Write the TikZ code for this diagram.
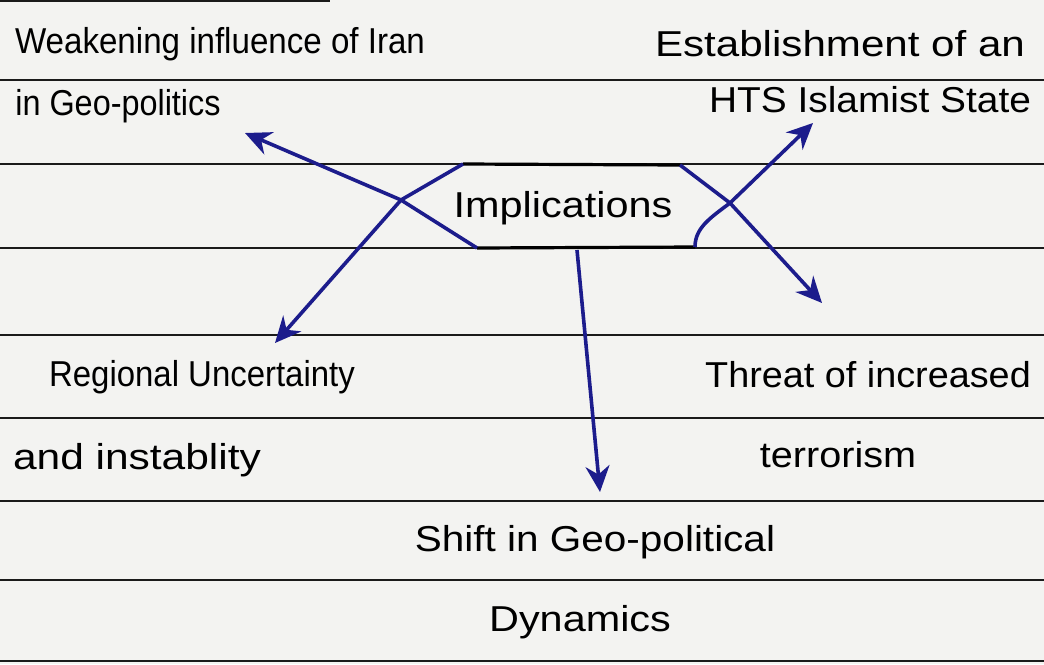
\documentclass[tikz,border=0pt]{standalone}
\usepackage{fontspec}
\setmainfont{Liberation Sans}
\usetikzlibrary{arrows.meta}
\definecolor{paper}{HTML}{F3F3F1}
\definecolor{ink}{HTML}{1C1C8C}
\definecolor{rule}{HTML}{1A1A1A}
\newcommand{\hw}[2]{\scalebox{#1}[1]{#2}}
\tikzset{
  hand/.style={inner sep=0pt, text=black, font=\fontsize{36}{36}\selectfont},
  ruleline/.style={draw=rule, line width=2.8pt},
  edge/.style={draw=black, line width=3.2pt},
  arr/.style={draw=ink, line width=3.6pt, -{Stealth[length=26pt,width=24pt]}},
}
\begin{document}
\begin{tikzpicture}[x=1pt,y=-1pt]
\fill[paper] (0,0) rectangle (1044,664);
\useasboundingbox (0,0) rectangle (1044,664);
% ruled lines
\draw[ruleline, line width=2pt] (0,1) -- (330,1);
\foreach \yy in {80,164,248,335,418,501,580,661}
  \draw[ruleline] (0,\yy) -- (1044,\yy);
% shape corners and crossing points
\coordinate (tl) at (463,164);
\coordinate (tr) at (680,165);
\coordinate (bl) at (477,248);
\coordinate (br) at (695,247);
\coordinate (xl) at (401,200);
\coordinate (xr) at (730,203);
\coordinate (bm) at (577,250);
% arrow ends
\coordinate (eul) at (245,133);
\coordinate (ell) at (275,343);
\coordinate (eur) at (813,123);
\coordinate (elr) at (822,303);
\coordinate (edn) at (600,492);
% central node
\node[hand] (impl) at (563,208) {\hw{1.15}{Implications}};
\draw[edge] (tl) -- (tr);
\draw[edge] (bl) -- (br);
% arrows
\draw[arr] (bl) -- (xl) -- (eul);
\draw[arr] (tl) -- (xl) -- (ell);
\draw[arr] (br) .. controls (695,228) and (710,218) .. (xr) -- (eur);
\draw[arr] (tr) -- (xr) -- (elr);
\draw[arr] (bm) -- (edn);
% labels
\node[hand] (w1) at (220,44) {\hw{0.92}{Weakening influence of Iran}};
\node[hand] (w2) at (118,106) {\hw{0.9}{in Geo-politics}};
\node[hand] (e1) at (840,44) {\hw{1.17}{Establishment of an}};
\node[hand] (e2) at (870,100) {\hw{1.08}{HTS Islamist State}};
\node[hand] (r1) at (202,377) {\hw{0.915}{Regional Uncertainty}};
\node[hand] (r2) at (137,460) {\hw{1.18}{and instablity}};
\node[hand] (t1) at (868,375) {\hw{1.05}{Threat of increased}};
\node[hand] (t2) at (838,455) {\hw{1.1}{terrorism}};
\node[hand] (s1) at (595,542) {\hw{1.125}{Shift in Geo-political}};
\node[hand] (s2) at (580,622) {\hw{1.15}{Dynamics}};
\end{tikzpicture}
\end{document}
